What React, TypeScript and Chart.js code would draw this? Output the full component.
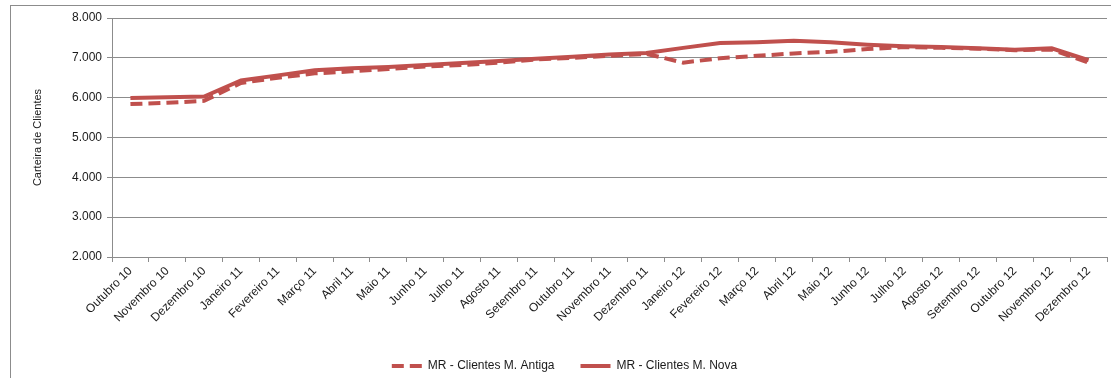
import React, { useEffect, useRef } from "react";
import { Chart, registerables } from "chart.js";

Chart.register(...registerables);

const months = [
  "Outubro 10", "Novembro 10", "Dezembro 10", "Janeiro 11", "Fevereiro 11", "Março 11",
  "Abril 11", "Maio 11", "Junho 11", "Julho 11", "Agosto 11", "Setembro 11",
  "Outubro 11", "Novembro 11", "Dezembro 11", "Janeiro 12", "Fevereiro 12", "Março 12",
  "Abril 12", "Maio 12", "Junho 12", "Julho 12", "Agosto 12", "Setembro 12",
  "Outubro 12", "Novembro 12", "Dezembro 12",
];

const clientesAntiga = [
  5840, 5870, 5920, 6370, 6500, 6610, 6660, 6720, 6780, 6820, 6880, 6960,
  7000, 7050, 7100, 6880, 6990, 7050, 7110, 7150, 7220, 7270, 7250, 7230,
  7190, 7210, 6880,
];

const clientesNova = [
  5990, 6010, 6030, 6430, 6560, 6690, 6740, 6770, 6820, 6870, 6920, 6980,
  7030, 7085, 7120, 7250, 7370, 7390, 7430, 7390, 7330, 7290, 7270, 7240,
  7200, 7240, 6940,
];

const yMin = 2000;
const yMax = 8000;
const yStep = 1000;

const RED = "#C0504D";
const FONT = "'Liberation Sans', Arial, sans-serif";
const TXT = "#1a1a1a";

const fmt = (v: number) => {
  const s = Math.round(v).toString();
  return s.replace(/\B(?=(\d{3})+(?!\d))/g, ".");
};

export default function App() {
  const ref = useRef<HTMLCanvasElement | null>(null);

  useEffect(() => {
    if (!ref.current) return;
    const chart = new Chart(ref.current, {
      type: "line",
      data: {
        labels: months,
        datasets: [
          {
            label: "MR - Clientes M. Antiga",
            data: clientesAntiga,
            borderColor: RED,
            backgroundColor: RED,
            borderWidth: 4,
            borderDash: [12, 6],
            pointRadius: 0,
            pointStyle: "line",
            tension: 0,
          },
          {
            label: "MR - Clientes M. Nova",
            data: clientesNova,
            borderColor: RED,
            backgroundColor: RED,
            borderWidth: 4,
            pointRadius: 0,
            pointStyle: "line",
            tension: 0,
          },
        ],
      },
      options: {
        animation: false,
        responsive: false,
        maintainAspectRatio: false,
        layout: { padding: { left: 22, right: 4, top: 18, bottom: -4 } },
        plugins: {
          tooltip: { enabled: false },
          legend: {
            position: "bottom",
            labels: {
              usePointStyle: true,
              pointStyleWidth: 30,
              boxWidth: 30,
              boxHeight: 4,
              color: TXT,
              padding: 26,
              font: { family: FONT, size: 12 },
              generateLabels: (c: any) =>
                c.data.datasets.map((ds: any, i: number) => ({
                  text: ds.label,
                  fillStyle: ds.borderColor,
                  strokeStyle: ds.borderColor,
                  lineWidth: ds.borderWidth,
                  lineDash: ds.borderDash || [],
                  lineCap: "butt",
                  pointStyle: "line",
                  hidden: false,
                  datasetIndex: i,
                  fontColor: TXT,
                })),
            },
          },
        },
        scales: {
          x: {
            offset: true,
            grid: {
              offset: true,
              drawOnChartArea: false,
              drawTicks: true,
              tickLength: 5,
              color: "#8c8c8c",
            },
            border: { color: "#8c8c8c" },
            ticks: {
              maxRotation: 45,
              minRotation: 45,
              autoSkip: false,
              color: TXT,
              padding: 2,
              font: { family: FONT, size: 12 },
            },
            afterFit: (s: any) => {
              s.height = 77;
            },
          },
          y: {
            min: yMin,
            max: yMax,
            ticks: {
              stepSize: yStep,
              color: TXT,
              padding: 5,
              font: { family: FONT, size: 12 },
              callback: (v: any) => fmt(Number(v)),
            },
            grid: { color: "#8c8c8c", tickLength: 5 },
            border: { color: "#8c8c8c" },
            title: {
              display: true,
              text: "Carteira de Clientes",
              color: TXT,
              padding: { top: 9, bottom: 0 },
              font: { family: FONT, size: 11 },
            },
            afterFit: (s: any) => {
              s.width = 90;
            },
          },
        },
      },
    });
    return () => chart.destroy();
  }, []);

  return (
    <div style={{ position: "fixed", left: 0, top: 0, width: 1111, height: 378, background: "#fff", overflow: "hidden" }}>
      <div style={{ position: "absolute", left: 10, top: 5, width: 1200, height: 500, border: "1px solid #8c8c8c", boxSizing: "border-box" }} />
      <canvas ref={ref} width={1111} height={378} style={{ position: "absolute", left: 0, top: 0 }} />
    </div>
  );
}
